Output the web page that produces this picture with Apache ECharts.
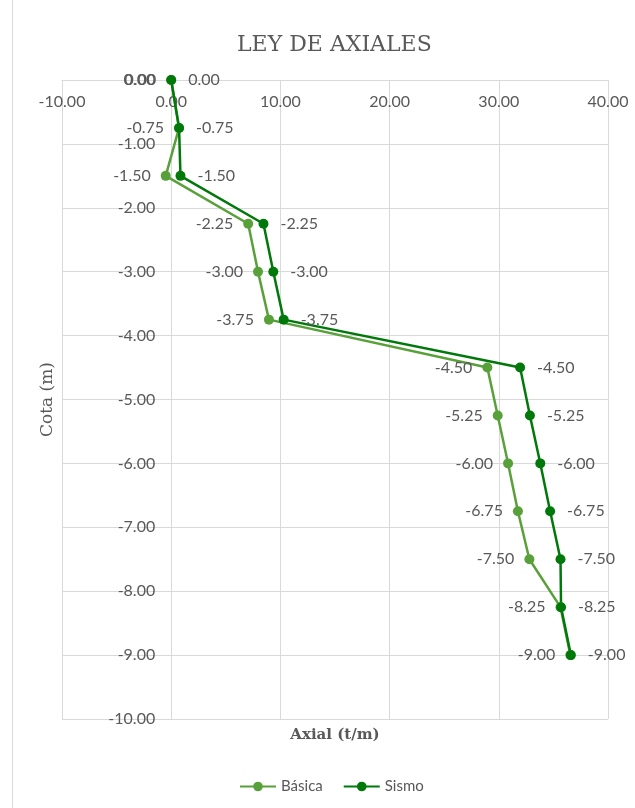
<!DOCTYPE html>
<html>
<head>
<meta charset="utf-8">
<script src="https://cdn.jsdelivr.net/npm/echarts@6/dist/echarts.min.js"></script>
<style>
html,body{margin:0;padding:0;background:#fff;}
#chart{width:635px;height:808px;}
</style>
</head>
<body>
<div id="chart"></div>
<script>
// cotas (m)
var cotas = [0, -0.75, -1.5, -2.25, -3, -3.75, -4.5, -5.25, -6, -6.75, -7.5, -8.25, -9];
// axial (t/m)
var basica = [0, 0.72, -0.5, 7.05, 7.95, 8.95, 28.95, 29.9, 30.85, 31.75, 32.8, 35.65, 36.55];
var sismo = [0, 0.72, 0.85, 8.45, 9.35, 10.3, 31.95, 32.85, 33.8, 34.7, 35.65, 35.7, 36.6];

function pares(xs) {
	var out = [];
	for (var i = 0; i < cotas.length; i++) {
		out.push([xs[i], cotas[i]]);
	}
	return out;
}

var gris = '#595959';
var gridLeft = 62, gridRight = 27;
// eje vertical cruzando en x = 0
var ejeOffset = -(635 - gridLeft - gridRight) * 10 / 50;

var chart = echarts.init(document.getElementById('chart'));
var option = {
	backgroundColor: '#fff',
	animation: false,
	title: {
		text: 'LEY DE AXIALES',
		left: 232,
		top: 29,
		textStyle: { fontFamily: 'DejaVu Serif', fontWeight: 'normal', fontSize: 22, color: gris }
	},
	legend: {
		bottom: 9,
		left: 234,
		itemWidth: 36,
		itemHeight: 12,
		itemGap: 20,
		textStyle: { fontFamily: 'Lato', fontSize: 15, color: gris },
		data: ['Básica', 'Sismo']
	},
	graphic: [{
		type: 'line',
		shape: { x1: 12.5, y1: 0, x2: 12.5, y2: 808 },
		style: { stroke: '#d9d9d9', lineWidth: 1 }
	}],
	grid: { left: gridLeft, right: gridRight, top: 80, bottom: 89, containLabel: false, outerBoundsMode: 'none' },
	xAxis: {
		type: 'value',
		position: 'top',
		min: -10, max: 40, interval: 10,
		name: 'Axial (t/m)',
		nameLocation: 'middle',
		nameGap: -663,
		nameTextStyle: { fontFamily: 'DejaVu Serif', fontWeight: 'bold', fontSize: 15, color: gris },
		axisLine: { show: true, onZero: false, lineStyle: { color: '#d9d9d9' } },
		axisTick: { show: false },
		axisLabel: {
			inside: true, margin: 14,
			fontFamily: 'Lato', fontSize: 16, color: gris,
			formatter: function (v) { return v.toFixed(2); }
		},
		splitLine: { lineStyle: { color: '#d9d9d9' } }
	},
	yAxis: {
		type: 'value',
		min: -10, max: 0, interval: 1,
		offset: ejeOffset,
		name: 'Cota (m)',
		nameLocation: 'middle',
		nameRotate: 90,
		nameGap: 115,
		nameTextStyle: { fontFamily: 'DejaVu Serif', fontSize: 17, color: gris },
		axisLine: { show: true, onZero: false, lineStyle: { color: '#d9d9d9' } },
		axisTick: { show: false },
		axisLabel: {
			margin: 16,
			fontFamily: 'Lato', fontSize: 16, color: gris,
			formatter: function (v) { return v.toFixed(2); }
		},
		splitLine: { lineStyle: { color: '#d9d9d9' } }
	},
	series: [{
		name: 'Básica',
		type: 'line',
		data: pares(basica),
		symbol: 'circle',
		symbolSize: 10,
		color: '#58a13a',
		lineStyle: { width: 2.5, color: '#58a13a' },
		label: {
			show: true, position: 'left', distance: 10,
			fontFamily: 'Lato', fontSize: 16, color: gris,
			formatter: function (p) { return p.value[1].toFixed(2); }
		}
	}, {
		name: 'Sismo',
		type: 'line',
		data: pares(sismo),
		symbol: 'circle',
		symbolSize: 10,
		color: '#00780a',
		lineStyle: { width: 2.5, color: '#00780a' },
		label: {
			show: true, position: 'right', distance: 12,
			fontFamily: 'Lato', fontSize: 16, color: gris,
			formatter: function (p) { return p.value[1].toFixed(2); }
		}
	}]
};
chart.setOption(option);
</script>
</body>
</html>
